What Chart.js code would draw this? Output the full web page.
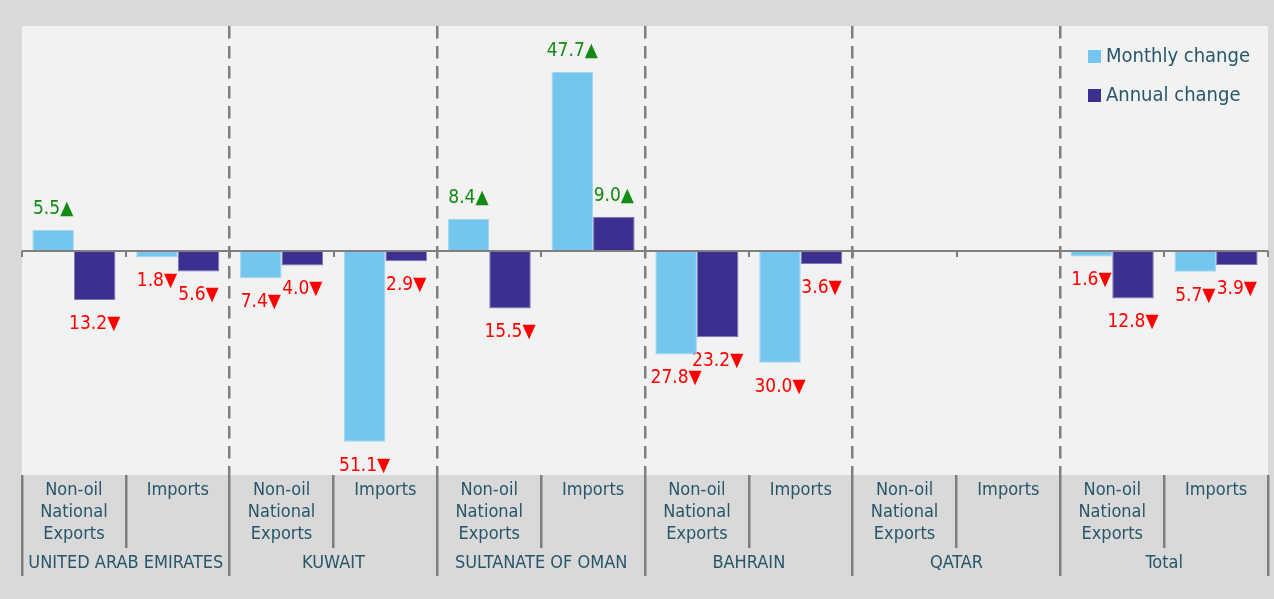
<!DOCTYPE html>
<html>
<head>
<meta charset="utf-8">
<script src="https://cdn.jsdelivr.net/npm/chart.js@4/dist/chart.umd.min.js"></script>
<style>
  html, body { margin: 0; padding: 0; background: #d9d9d9; }
  #wrap { width: 1274px; height: 599px; }
</style>
</head>
<body>
<div id="wrap"><canvas id="trade-chart" width="1274" height="599"></canvas></div>
<script>
// categories
var groups = ["UNITED ARAB EMIRATES", "KUWAIT", "SULTANATE OF OMAN", "BAHRAIN", "QATAR", "Total"];
var flows = [["Non-oil", "National", "Exports"], ["Imports"]];

// changes in %, one value per country / flow
var monthlyChange = [5.5, -1.8, -7.4, -51.1, 8.4, 47.7, -27.8, -30.0, null, null, -1.6, -5.7];
var annualChange = [-13.2, -5.6, -4.0, -2.9, -15.5, 9.0, -23.2, -3.6, null, null, -12.8, -3.9];

var yMin = -60;
var yMax = 60;

var textColor = "#27566a";
var lineGray = "#7f7f7f";
var fontFace = "'DejaVu Sans Condensed', 'DejaVu Sans', sans-serif";

// sub labels repeated for each country
var labels = [];
for (var i = 0; i < groups.length; i++) {
  labels.push(flows[0]);
  labels.push(flows[1]);
}

// light background behind the plot
var plotBg = {
  id: "plotBg",
  beforeDraw: function(chart) {
    var a = chart.chartArea;
    var ctx = chart.ctx;
    ctx.save();
    ctx.fillStyle = "#f2f2f2";
    ctx.fillRect(a.left, a.top, a.right - a.left, a.bottom - a.top);
    ctx.restore();
  }
};

// value labels with up / down arrows
var valueLabels = {
  id: "valueLabels",
  beforeDatasetsDraw: function(chart) {
    var ctx = chart.ctx;
    ctx.save();
    ctx.font = "19px " + fontFace;
    ctx.textAlign = "center";
    ctx.textBaseline = "middle";
    chart.data.datasets.forEach(function(ds, di) {
      var meta = chart.getDatasetMeta(di);
      meta.data.forEach(function(bar, j) {
        var v = ds.data[j];
        if (v === null || v === undefined) return;
        if (v >= 0) {
          ctx.fillStyle = "#138a13";
          ctx.fillText(v.toFixed(1) + "\u25B2", bar.x, bar.y - 21);
        } else {
          ctx.fillStyle = "#ff0000";
          ctx.fillText(Math.abs(v).toFixed(1) + "\u25BC", bar.x, bar.y + 24);
        }
      });
    });
    ctx.restore();
  }
};

// zero line with small ticks between categories
var zeroLine = {
  id: "zeroLine",
  afterDatasetsDraw: function(chart) {
    var ctx = chart.ctx;
    var a = chart.chartArea;
    var y0 = Math.round(chart.scales.y.getPixelForValue(0));
    ctx.save();
    ctx.strokeStyle = lineGray;
    ctx.lineWidth = 2;
    ctx.beginPath();
    ctx.moveTo(a.left, y0);
    ctx.lineTo(a.right, y0);
    var step = (a.right - a.left) / labels.length;
    for (var k = 0; k <= labels.length; k++) {
      var px = Math.round(a.left + k * step);
      ctx.moveTo(px, y0);
      ctx.lineTo(px, y0 + 6);
    }
    ctx.stroke();
    ctx.restore();
  }
};

// legend in the top right corner
var cornerLegend = {
  id: "cornerLegend",
  afterDraw: function(chart) {
    var ctx = chart.ctx;
    var a = chart.chartArea;
    var lx = a.right - 180;
    ctx.save();
    ctx.font = "20px " + fontFace;
    ctx.textBaseline = "middle";
    chart.data.datasets.forEach(function(ds, i) {
      var ly = a.top + 31 + i * 39;
      ctx.fillStyle = ds.backgroundColor;
      ctx.fillRect(lx, ly - 7, 13, 13);
      ctx.fillStyle = textColor;
      ctx.fillText(ds.label, lx + 18, ly);
    });
    ctx.restore();
  }
};

var ctx = document.getElementById("trade-chart");
new Chart(ctx, {
  type: "bar",
  data: {
    labels: labels,
    datasets: [
      {
        label: "Monthly change",
        backgroundColor: "#75c6ef",
        borderColor: "#9fd6f2",
        borderWidth: 1,
        data: monthlyChange
      },
      {
        label: "Annual change",
        backgroundColor: "#3b2f8f",
        borderColor: "#7d78b8",
        borderWidth: 1,
        data: annualChange
      }
    ]
  },
  options: {
    responsive: false,
    animation: false,
    devicePixelRatio: 1,
    layout: { padding: { left: 22, right: 6, top: 26, bottom: 23 } },
    datasets: {
      bar: { categoryPercentage: 0.8, barPercentage: 1.0 }
    },
    plugins: {
      legend: { display: false },
      tooltip: { enabled: false }
    },
    scales: {
      y: {
        display: false,
        min: yMin,
        max: yMax
      },
      x: {
        offset: true,
        border: { display: false },
        grid: {
          offset: true,
          drawOnChartArea: false,
          color: lineGray,
          lineWidth: 2.5,
          tickLength: 73
        },
        ticks: {
          color: textColor,
          padding: -69,
          maxRotation: 0,
          autoSkip: false,
          font: { family: fontFace, size: 18, lineHeight: 22 / 18 }
        },
        afterFit: function(scale) { scale.height = 73; }
      },
      x2: {
        type: "category",
        labels: groups,
        position: "bottom",
        offset: true,
        border: { display: false, dash: [12.5, 7.5] },
        grid: {
          offset: true,
          drawOnChartArea: true,
          // dashed separators only between countries, not on the outer edges
          color: function(c) {
            return (c.type === "tick" && c.index > 0) ? lineGray : "rgba(0,0,0,0)";
          },
          tickColor: lineGray,
          tickBorderDash: [],
          lineWidth: 2.5,
          tickLength: 28
        },
        ticks: {
          color: textColor,
          padding: -24,
          maxRotation: 0,
          autoSkip: false,
          font: { family: fontFace, size: 18, lineHeight: 22 / 18 }
        },
        afterFit: function(scale) { scale.height = 28; }
      }
    }
  },
  plugins: [plotBg, valueLabels, zeroLine, cornerLegend]
});
</script>
</body>
</html>
